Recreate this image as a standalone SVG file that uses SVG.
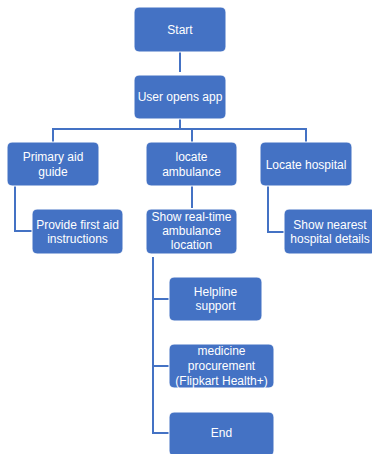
<svg xmlns="http://www.w3.org/2000/svg" width="372" height="454" viewBox="0 0 372 454">
<style>
.box{fill:#4472C4;stroke:#ffffff;stroke-width:1}
.t{font-family:"Liberation Sans",Arial,sans-serif;font-size:12px;fill:#ffffff;text-anchor:middle;dominant-baseline:central}
.c{fill:none;stroke:#4472C4;stroke-width:2}
</style>
<rect width="372" height="454" fill="#ffffff"/>
<g id="connectors">
<path class="c" d="M180 52 V72"/>
<path class="c" d="M180 119 V129 H53 V142"/>
<path class="c" d="M180 129 H306 V142"/>
<path class="c" d="M192 129 V142"/>
<path class="c" d="M15 186 V231 H32"/>
<path class="c" d="M192 186 V208"/>
<path class="c" d="M268 186 V232 H284"/>
<path class="c" d="M170 299 H153 V257 M153 299 V366 H170 M153 366 V433 H170"/>
</g>
<g id="start"><rect class="box" x="134" y="7" width="92" height="45" rx="5"/><text class="t" x="180" y="30">Start</text></g>
<g id="user-opens-app"><rect class="box" x="134" y="75" width="92" height="44" rx="5"/><text class="t" x="180" y="97">User opens app</text></g>
<g id="primary-aid"><rect class="box" x="7" y="142" width="92" height="44" rx="5"/><text class="t" x="53" y="157">Primary aid</text><text class="t" x="53" y="172">guide</text></g>
<g id="locate-ambulance"><rect class="box" x="146" y="142" width="91" height="44" rx="5"/><text class="t" x="191.5" y="157">locate</text><text class="t" x="191.5" y="172">ambulance</text></g>
<g id="locate-hospital"><rect class="box" x="260" y="142" width="92" height="44" rx="5"/><text class="t" x="306" y="165">Locate hospital</text></g>
<g id="first-aid"><rect class="box" x="32" y="209" width="91" height="45" rx="5"/><text class="t" x="77.5" y="225">Provide first aid</text><text class="t" x="77.5" y="239">instructions</text></g>
<g id="show-realtime"><rect class="box" x="146" y="209" width="91" height="45" rx="5"/><text class="t" x="191.5" y="217">Show real-time</text><text class="t" x="191.5" y="231">ambulance</text><text class="t" x="191.5" y="245">location</text></g>
<g id="nearest-hospital"><rect class="box" x="284" y="209" width="92" height="45" rx="5"/><text class="t" x="330" y="225">Show nearest</text><text class="t" x="330" y="239">hospital details</text></g>
<g id="helpline"><rect class="box" x="169" y="277" width="93" height="44" rx="5"/><text class="t" x="215.5" y="292">Helpline</text><text class="t" x="215.5" y="306">support</text></g>
<g id="medicine"><rect class="box" x="169" y="344" width="105" height="44" rx="5"/><text class="t" x="221.5" y="351">medicine</text><text class="t" x="221.5" y="366">procurement</text><text class="t" x="221.5" y="381">(Flipkart Health+)</text></g>
<g id="end"><rect class="box" x="169" y="412" width="105" height="44" rx="5"/><text class="t" x="221.5" y="433">End</text></g>
</svg>
